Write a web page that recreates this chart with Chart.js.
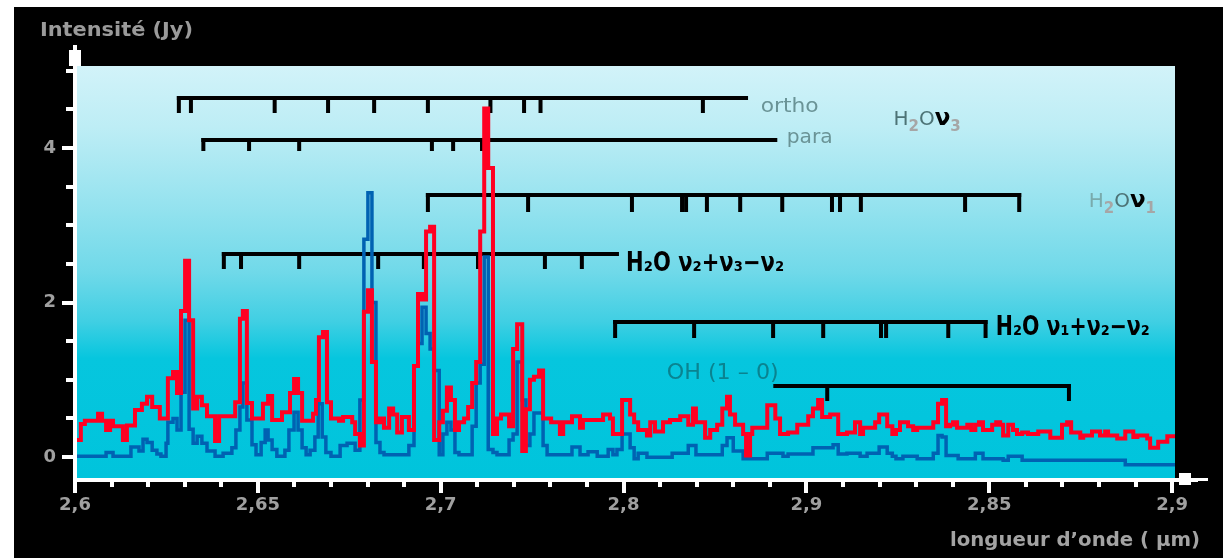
<!DOCTYPE html>
<html>
<head>
<meta charset="utf-8">
<script src="https://cdn.jsdelivr.net/npm/chart.js@4.4.0/dist/chart.umd.min.js"></script>
<style>
  html, body { margin: 0; padding: 0; background: #fff; }
  canvas { display: block; }
</style>
</head>
<body>
<canvas id="spec" width="1223" height="558"></canvas>
<script>
// hot spectrum (red) - wavelength in micron / flux in Jy
var redWl = [2.6005,2.6016,2.6027,2.6063,2.6074,2.6085,2.6096,2.6104,2.6131,2.6142,
  2.6164,2.6183,2.6197,2.6211,2.6232,2.6254,2.6268,2.6279,2.6290,2.6301,
  2.6312,2.6323,2.6334,2.6347,2.6361,2.6383,2.6394,2.6438,2.6451,2.6459,
  2.6470,2.6484,2.6514,2.6528,2.6539,2.6566,2.6588,2.6599,2.6610,2.6621,
  2.6651,2.6659,2.6667,2.6678,2.6689,2.6700,2.6722,2.6733,2.6758,2.6766,
  2.6779,2.6790,2.6801,2.6812,2.6823,2.6834,2.6845,2.6859,2.6870,2.6881,
  2.6894,2.6913,2.6927,2.6938,2.6949,2.6960,2.6971,2.6982,2.6996,2.7006,
  2.7017,2.7028,2.7039,2.7050,2.7064,2.7075,2.7086,2.7097,2.7108,2.7119,
  2.7130,2.7143,2.7154,2.7165,2.7187,2.7198,2.7209,2.7223,2.7233,2.7244,
  2.7255,2.7269,2.7280,2.7302,2.7326,2.7335,2.7359,2.7381,2.7389,2.7444,
  2.7463,2.7471,2.7496,2.7518,2.7529,2.7540,2.7564,2.7573,2.7586,2.7608,
  2.7627,2.7655,2.7677,2.7690,2.7698,2.7723,2.7737,2.7756,2.7770,2.7783,
  2.7791,2.7805,2.7827,2.7835,2.7846,2.7852,2.7893,2.7915,2.7928,2.7950,
  2.7975,2.8005,2.8018,2.8032,2.8043,2.8065,2.8087,2.8111,2.8133,2.8147,
  2.8155,2.8188,2.8199,2.8221,2.8235,2.8245,2.8256,2.8278,2.8292,2.8303,
  2.8347,2.8360,2.8371,2.8382,2.8393,2.8401,2.8412,2.8440,2.8451,2.8462,
  2.8472,2.8483,2.8508,2.8519,2.8530,2.8538,2.8552,2.8565,2.8576,2.8590,
  2.8606,2.8634,2.8667,2.8699,2.8713,2.8724,2.8749,2.8757,2.8781,2.8803,
  2.8817,2.8825,2.8850,2.8872,2.8894,2.8905,2.8932,2.8940,2.8962,2.8987,
  2.9009];
var redJy = [0.22,0.43,0.47,0.56,0.47,0.35,0.47,0.40,0.22,0.41,
  0.61,0.69,0.78,0.65,0.50,1.02,1.10,0.83,1.89,2.54,
  1.77,0.63,0.78,0.67,0.53,0.21,0.53,0.71,1.79,1.89,
  0.70,0.50,0.69,0.79,0.48,0.58,0.83,1.01,0.83,0.47,
  0.56,0.74,1.55,1.62,0.71,0.50,0.47,0.52,0.45,0.30,
  0.15,1.88,2.16,1.23,0.45,0.50,0.38,0.63,0.55,0.32,
  0.52,0.35,1.18,2.11,2.04,2.92,2.98,0.22,0.45,0.60,
  0.90,0.74,0.35,0.45,0.50,0.65,0.96,1.23,2.92,4.51,
  3.74,0.30,0.50,0.55,0.40,1.40,1.72,0.08,0.62,1.00,
  1.04,1.12,0.50,0.45,0.30,0.45,0.53,0.38,0.48,0.55,
  0.50,0.30,0.74,0.55,0.45,0.35,0.28,0.45,0.33,0.45,
  0.48,0.53,0.42,0.63,0.45,0.25,0.35,0.42,0.63,0.78,
  0.55,0.42,0.30,0.02,0.30,0.38,0.67,0.50,0.30,0.32,
  0.42,0.53,0.63,0.74,0.52,0.55,0.30,0.32,0.45,0.30,
  0.38,0.45,0.55,0.40,0.30,0.35,0.45,0.40,0.35,0.38,
  0.45,0.69,0.74,0.40,0.42,0.45,0.38,0.42,0.35,0.42,
  0.45,0.35,0.42,0.45,0.42,0.28,0.42,0.35,0.30,0.32,
  0.30,0.33,0.25,0.42,0.45,0.32,0.25,0.28,0.33,0.28,
  0.33,0.28,0.24,0.33,0.26,0.28,0.24,0.12,0.20,0.27,
  0.27];

// cold spectrum (blue)
var blueWl = [2.6005,2.6085,2.6104,2.6153,2.6175,2.6186,2.6197,2.6211,2.6224,2.6235,
  2.6249,2.6254,2.6268,2.6279,2.6290,2.6301,2.6312,2.6323,2.6334,2.6347,
  2.6361,2.6383,2.6405,2.6429,2.6440,2.6451,2.6459,2.6470,2.6484,2.6495,
  2.6509,2.6520,2.6528,2.6539,2.6552,2.6574,2.6585,2.6599,2.6610,2.6621,
  2.6632,2.6643,2.6656,2.6665,2.6676,2.6686,2.6700,2.6725,2.6744,2.6766,
  2.6779,2.6790,2.6801,2.6812,2.6823,2.6834,2.6845,2.6913,2.6927,2.6938,
  2.6949,2.6960,2.6971,2.6982,2.6996,2.7006,2.7017,2.7028,2.7039,2.7050,
  2.7086,2.7097,2.7108,2.7119,2.7130,2.7143,2.7154,2.7187,2.7198,2.7209,
  2.7223,2.7233,2.7244,2.7255,2.7280,2.7291,2.7359,2.7381,2.7403,2.7428,
  2.7458,2.7471,2.7482,2.7496,2.7518,2.7529,2.7540,2.7564,2.7633,2.7677,
  2.7698,2.7770,2.7783,2.7800,2.7827,2.7893,2.7936,2.7950,2.8018,2.8073,
  2.8087,2.8111,2.8147,2.8166,2.8199,2.8221,2.8235,2.8245,2.8264,2.8303,
  2.8347,2.8360,2.8371,2.8382,2.8415,2.8462,2.8483,2.8538,2.8552,2.8590,
  2.8872,2.9009];
var blueJy = [0.01,0.06,0.01,0.13,0.08,0.23,0.19,0.09,0.04,0.01,
  0.18,0.45,0.50,0.35,0.84,1.77,0.36,0.18,0.27,0.18,
  0.08,0.01,0.05,0.12,0.35,0.65,0.96,0.48,0.16,0.03,
  0.19,0.35,0.22,0.10,0.01,0.09,0.35,0.58,0.35,0.12,
  0.03,0.09,0.26,0.69,0.26,0.06,0.01,0.15,0.18,0.09,
  0.74,2.82,3.42,2.00,0.19,0.06,0.03,0.15,1.18,1.47,
  1.94,1.60,1.40,1.12,0.03,0.30,0.45,0.35,0.06,0.03,
  0.40,0.96,1.20,2.59,0.10,0.06,0.03,0.22,0.30,1.23,
  0.74,0.15,0.30,0.57,0.15,0.03,0.13,0.03,0.07,0.01,
  0.10,0.03,0.10,0.30,0.12,-0.02,0.05,0.00,0.05,0.15,
  0.03,0.15,0.25,0.08,-0.02,0.05,0.01,0.04,0.12,0.16,
  0.04,0.05,0.01,0.05,0.13,0.05,0.01,-0.02,0.01,-0.02,
  0.05,0.28,0.26,0.02,-0.02,0.05,-0.02,-0.04,0.01,-0.04,
  -0.10,-0.10];

// axis ticks
var xTickVals = [2.6, 2.65, 2.7, 2.75, 2.8, 2.85, 2.9];
var xTickLabels = ['2,6', '2,65', '2,7', '2,8', '2,9', '2,85', '2,9'];
var yTickVals = [0, 2, 4];
var yTickLabels = ['0', '2', '4'];

// transition combs (line positions in micron)
var orthoLines = [2.6284,2.6317,2.6546,2.6692,2.6818,2.6965,2.7136,2.7228,2.7273,2.7717];
var paraLines = [2.6351,2.6476,2.6613,2.6976,2.7034,2.7113];
var nu1Lines = [2.6965,2.7239,2.7523,2.7660,2.7671,2.7728,2.7819,2.7934,2.8070,2.8092,2.8149,2.8434,2.8582];
var hotALines = [2.6407,2.6454,2.6613,2.6829,2.6954,2.7102,2.7285,2.7386];
var hotBLines = [2.7477,2.7693,2.7909,2.8046,2.8204,2.8218,2.8388,2.8490];
var ohLines = [2.8057,2.8718];

var combs = [
  { lines: orthoLines, from: orthoLines[0], to: 2.7835, level: 4.64, drop: 15 },
  { lines: paraLines, from: paraLines[0], to: 2.7915, level: 4.10, drop: 11 },
  { lines: nu1Lines, from: nu1Lines[0], to: nu1Lines[nu1Lines.length - 1], level: 3.39, drop: 17 },
  { lines: hotALines, from: hotALines[0], to: 2.7482, level: 2.63, drop: 15 },
  { lines: hotBLines, from: hotBLines[0], to: hotBLines[hotBLines.length - 1], level: 1.75, drop: 16 },
  { lines: ohLines, from: 2.7915, to: ohLines[ohLines.length - 1], level: 0.92, drop: 15 }
];

var COND = '"DejaVu Sans Condensed", "DejaVu Sans", sans-serif';

// squeeze/stretch a text run to a given width
function fitText(ctx, txt, x, y, w) {
  var m = ctx.measureText(txt).width;
  ctx.save();
  ctx.translate(x, y);
  ctx.scale(w / m, 1);
  ctx.fillText(txt, 0, 0);
  ctx.restore();
}

function drawRuns(ctx, runs, x, y) {
  runs.forEach(function (r) {
    ctx.font = r.font;
    ctx.fillStyle = r.color;
    ctx.fillText(r.t, x, y + (r.dy || 0));
    x += ctx.measureText(r.t).width;
  });
}

var backdrop = {
  id: 'backdrop',
  beforeDraw: function (chart) {
    var ctx = chart.ctx, a = chart.chartArea;
    ctx.save();
    ctx.fillStyle = '#ffffff';
    ctx.fillRect(0, 0, chart.width, chart.height);
    ctx.fillStyle = '#000000';
    ctx.fillRect(14, 7, chart.width - 14, chart.height - 7);
    var g = ctx.createLinearGradient(0, a.top, 0, a.bottom);
    g.addColorStop(0, '#d2f3f9');
    g.addColorStop(0.15, '#bdedf5');
    g.addColorStop(0.33, '#97e3ef');
    g.addColorStop(0.5, '#70d9e9');
    g.addColorStop(0.62, '#40cfe3');
    g.addColorStop(0.71, '#06c6de');
    g.addColorStop(1, '#00c4dc');
    ctx.fillStyle = g;
    ctx.fillRect(a.left, a.top, a.right - a.left, a.bottom - a.top);
    ctx.restore();
  }
};

var annotations = {
  id: 'annotations',
  beforeDatasetsDraw: function (chart) {
    var ctx = chart.ctx, xs = chart.scales.x, ys = chart.scales.y;
    ctx.save();
    ctx.fillStyle = '#000000';
    combs.forEach(function (c) {
      var y = Math.round(ys.getPixelForValue(c.level));
      var x0 = xs.getPixelForValue(c.from), x1 = xs.getPixelForValue(c.to);
      ctx.fillRect(x0 - 2, y - 2, x1 - x0 + 4, 4);
      c.lines.forEach(function (w) {
        var x = xs.getPixelForValue(w);
        ctx.fillRect(x - 2, y - 2, 4, c.drop + 2);
      });
    });

    ctx.textBaseline = 'alphabetic';
    ctx.fillStyle = '#6a9396';
    ctx.font = '20px "DejaVu Sans", sans-serif';
    fitText(ctx, 'ortho', xs.getPixelForValue(2.7875), ys.getPixelForValue(4.46), 58);
    fitText(ctx, 'para', xs.getPixelForValue(2.7946), ys.getPixelForValue(4.07), 46);

    var sub = 'bold 15px "DejaVu Sans", sans-serif';
    drawRuns(ctx, [
      { t: 'H', font: '20px "DejaVu Sans", sans-serif', color: '#4d7376' },
      { t: '2', font: sub, color: '#a6a6a6', dy: 6 },
      { t: 'O', font: '20px "DejaVu Sans", sans-serif', color: '#4d7376' },
      { t: 'ν', font: 'bold 23px "DejaVu Sans", sans-serif', color: '#000000' },
      { t: '3', font: sub, color: '#a6a6a6', dy: 6 }
    ], xs.getPixelForValue(2.8238), ys.getPixelForValue(4.3));
    drawRuns(ctx, [
      { t: 'H', font: '20px "DejaVu Sans", sans-serif', color: '#79aaac' },
      { t: '2', font: sub, color: '#a6a6a6', dy: 6 },
      { t: 'O', font: '20px "DejaVu Sans", sans-serif', color: '#4d7376' },
      { t: 'ν', font: 'bold 23px "DejaVu Sans", sans-serif', color: '#000000' },
      { t: '1', font: sub, color: '#a6a6a6', dy: 6 }
    ], xs.getPixelForValue(2.8772), ys.getPixelForValue(3.23));

    ctx.fillStyle = '#000000';
    ctx.font = 'bold 26px ' + COND;
    fitText(ctx, 'H₂O ν₂+ν₃−ν₂', xs.getPixelForValue(2.7507), ys.getPixelForValue(2.41), 158);
    fitText(ctx, 'H₂O ν₁+ν₂−ν₂', xs.getPixelForValue(2.8518), ys.getPixelForValue(1.58), 154);

    ctx.fillStyle = '#0a8390';
    ctx.font = '22px "DejaVu Sans", sans-serif';
    fitText(ctx, 'OH (1 – 0)', xs.getPixelForValue(2.7618), ys.getPixelForValue(1.01), 112);
    ctx.restore();
  }
};

var axesDeco = {
  id: 'axesDeco',
  afterDatasetsDraw: function (chart) {
    var ctx = chart.ctx, xs = chart.scales.x, ys = chart.scales.y, a = chart.chartArea;
    var x0 = xs.getPixelForValue(2.6);
    ctx.save();
    ctx.fillStyle = '#ffffff';
    // axis lines
    ctx.fillRect(x0 - 2, 50, 4, a.bottom + 4 - 50);
    ctx.fillRect(x0 - 2, a.bottom, 1200 - x0, 4);
    // arrow heads
    ctx.fillRect(x0 - 6, 50, 12, 16);
    ctx.fillRect(x0 - 2, 45, 4, 6);
    ctx.fillRect(1179, a.bottom - 5, 12, 12);
    ctx.fillRect(1190, a.bottom, 18, 3);
    // y ticks every 0.5
    for (var v = 0; v <= 5.01; v += 0.5) {
      var y = Math.round(ys.getPixelForValue(v));
      var major = yTickVals.indexOf(v) >= 0;
      var len = major ? 11 : 7;
      ctx.fillRect(x0 - 2 - len, y - 2, len, 4);
    }
    // x ticks every 0.01
    for (var i = 0; i <= 30; i++) {
      var w = 2.6 + i * 0.01;
      var x = Math.round(xs.getPixelForValue(w));
      var len2 = (i % 5 === 0) ? 12 : 6;
      ctx.fillRect(x - 2, a.bottom + 3, 4, len2);
    }
    // titles
    ctx.fillStyle = '#9a9a9a';
    ctx.textBaseline = 'alphabetic';
    ctx.font = 'bold 20px ' + COND;
    fitText(ctx, 'Intensité (Jy)', 40, 36, 153);
    ctx.fillStyle = '#a3a3a3';
    ctx.font = 'bold 19px ' + COND;
    fitText(ctx, 'longueur d\u2019onde ( µm)', 950, 546, 250);
    ctx.restore();
  }
};

var tickFont = { family: '"DejaVu Sans", sans-serif', weight: 'bold', size: 18 };

var ctx = document.getElementById('spec');
var specChart = new Chart(ctx, {
  type: 'line',
  data: {
    datasets: [
      {
        label: 'red',
        data: redWl.map(function (w, i) { return { x: w, y: redJy[i] }; }),
        borderColor: '#ff0022',
        borderWidth: 4,
        stepped: 'before',
        pointRadius: 0,
        fill: false,
        borderJoinStyle: 'miter'
      },
      {
        label: 'blue',
        data: blueWl.map(function (w, i) { return { x: w, y: blueJy[i] }; }),
        borderColor: '#0062b2',
        borderWidth: 3.5,
        stepped: 'before',
        pointRadius: 0,
        fill: false,
        borderJoinStyle: 'miter'
      }
    ]
  },
  options: {
    responsive: false,
    animation: false,
    devicePixelRatio: 1,
    events: [],
    layout: { padding: { left: 0, top: 66, right: 48, bottom: 0 } },
    plugins: { legend: { display: false }, tooltip: { enabled: false } },
    scales: {
      x: {
        type: 'linear',
        min: 2.6,
        max: 2.9008,
        afterBuildTicks: function (s) { s.ticks = xTickVals.map(function (v) { return { value: v }; }); },
        afterFit: function (s) { s.height = 80; },
        grid: { display: false, drawTicks: false },
        border: { display: false },
        ticks: {
          autoSkip: false, maxRotation: 0, padding: 17, color: '#a0a0a0', font: tickFont,
          callback: function (v, i) { return xTickLabels[i]; }
        }
      },
      y: {
        type: 'linear',
        min: -0.27,
        max: 5.06,
        afterBuildTicks: function (s) { s.ticks = yTickVals.map(function (v) { return { value: v }; }); },
        afterFit: function (s) { s.width = 75; },
        grid: { display: false, drawTicks: false },
        border: { display: false },
        ticks: {
          padding: 19, color: '#a0a0a0', font: tickFont,
          callback: function (v, i) { return yTickLabels[i]; }
        }
      }
    }
  },
  plugins: [backdrop, annotations, axesDeco]
});
</script>
</body>
</html>
